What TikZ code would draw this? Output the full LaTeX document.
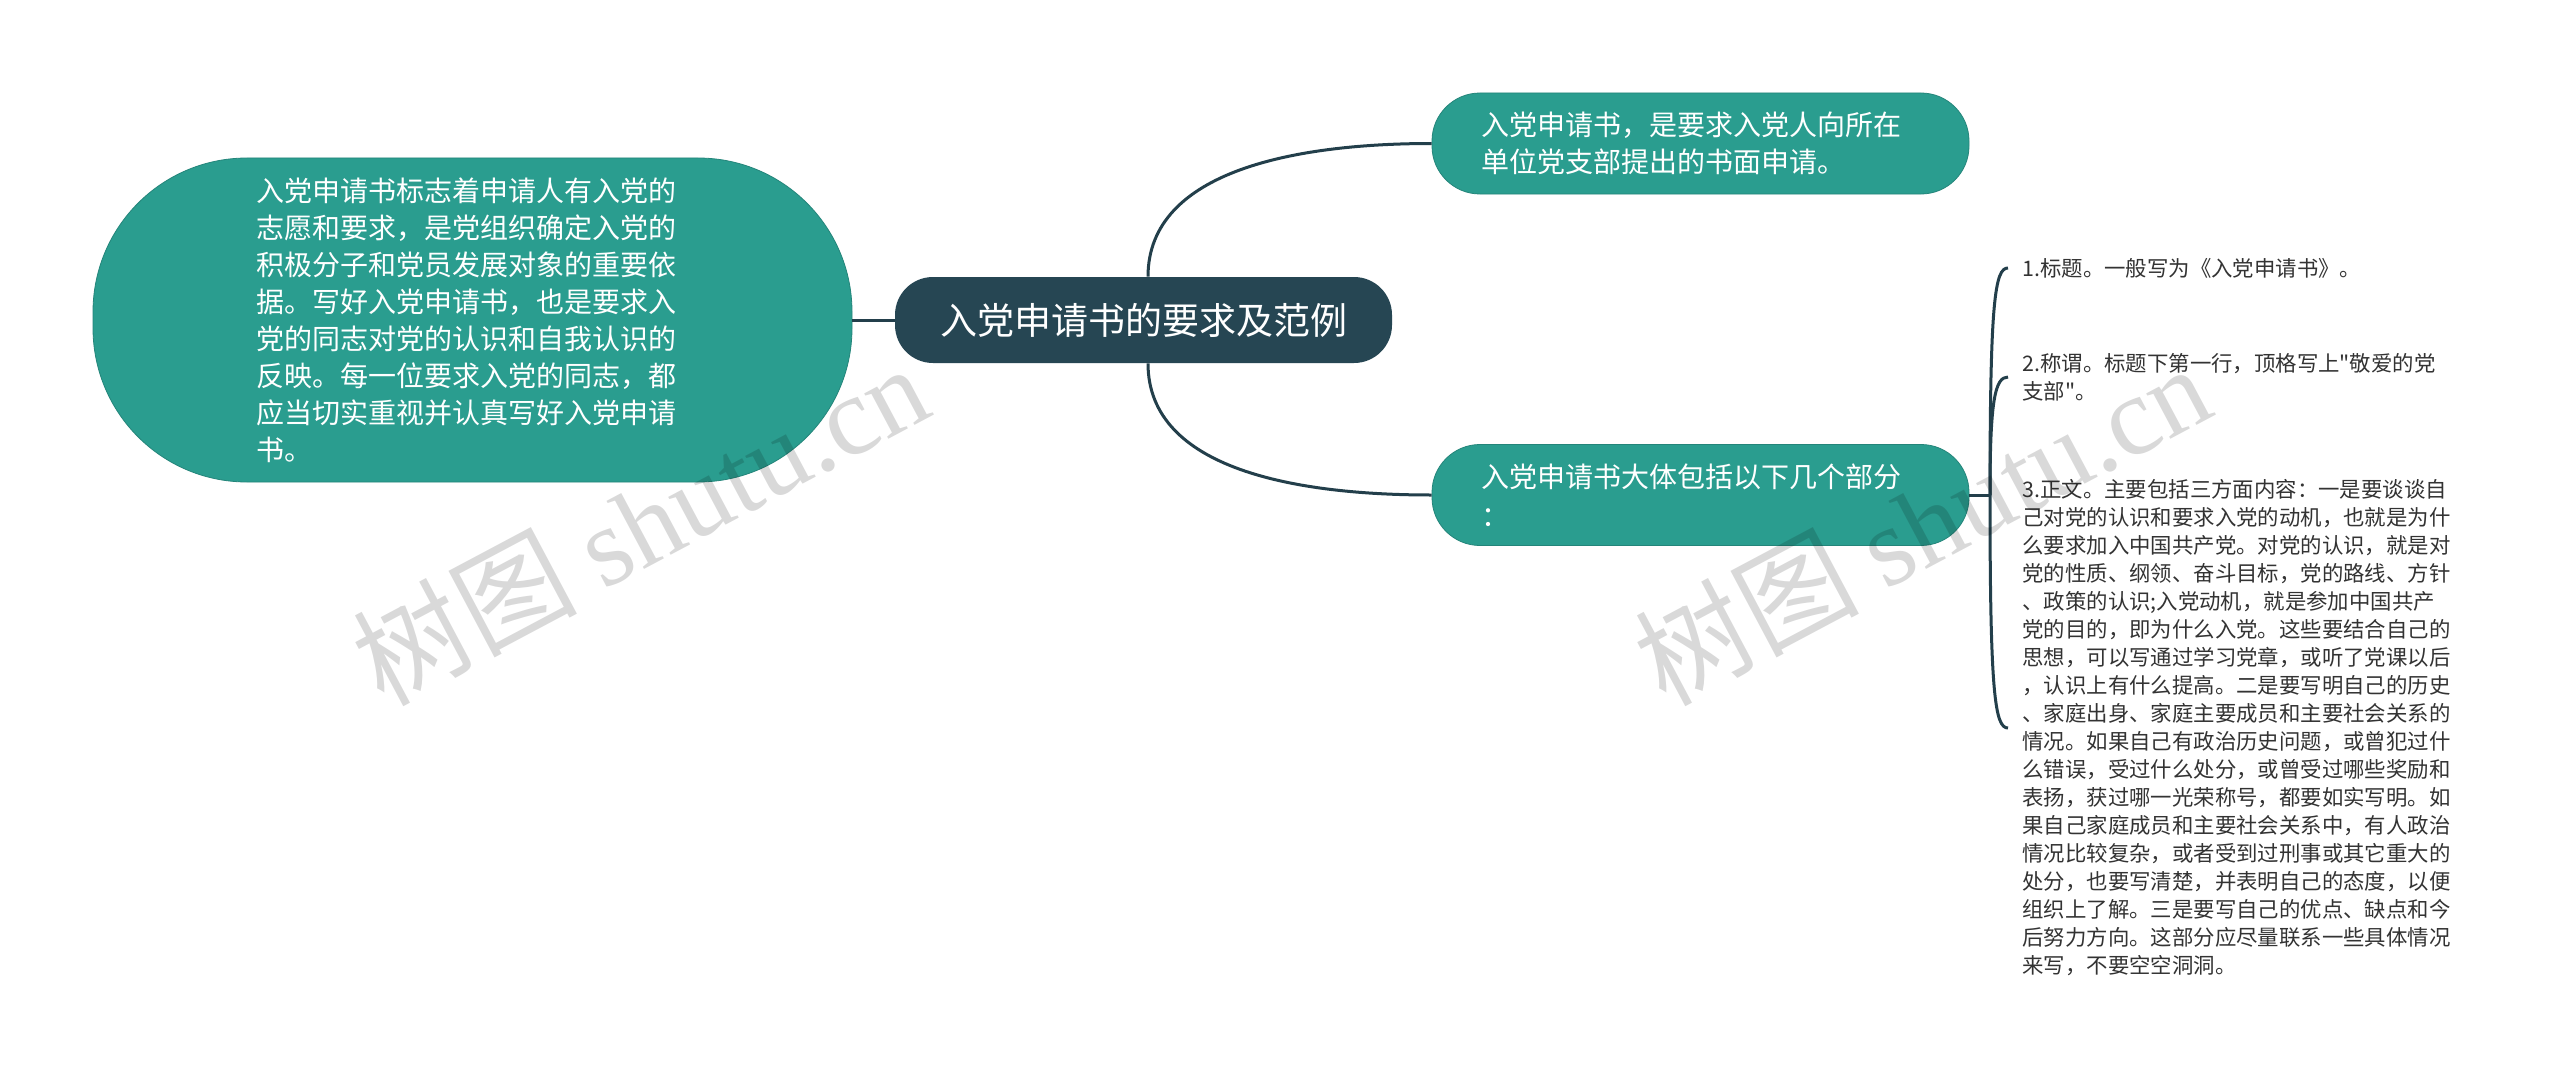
\documentclass[tikz,border=0pt]{standalone}
\usepackage{fontspec}
\setmainfont{Noto Sans CJK SC}
\newfontfamily\plaincjk{Noto Sans CJK SC}
\newfontfamily\wmlatin{Liberation Serif}
\definecolor{tealc}{HTML}{2A9D8F}
\definecolor{darkc}{HTML}{264653}
\definecolor{linec}{HTML}{233F4B}
\definecolor{leaftxt}{HTML}{333333}
\begin{document}
\begin{tikzpicture}[x=0.5pt,y=-0.5pt,
  conn/.style={draw=linec, line width=1.5pt},
  mainnode/.style={fill=darkc, text=white, rounded corners=19pt, minimum width=248.5pt, minimum height=43pt, inner sep=0pt, font=\fontsize{18.5}{22}\selectfont},
  topic/.style={fill=tealc, draw=tealc!85!black, line width=0.4pt, text=white, inner sep=0pt, align=left},
  leaf/.style={text=leaftxt, anchor=west, inner xsep=7pt, inner ysep=2pt, align=left, font=\plaincjk\fontsize{10.7}{14}\selectfont},
  wm/.style={text=black, opacity=0.15, rotate=28, font=\fontsize{56}{60}\selectfont}
]
\fill[white] (0,0) rectangle (2560,1081);
\useasboundingbox (0,0) rectangle (2560,1081);

\node[mainnode] (c) at (1143.5,320) {入党申请书的要求及范例};

\node[topic, minimum width=379.5pt, minimum height=162pt, rounded corners=77pt, text width=216.5pt, font=\fontsize{14}{18.5}\selectfont] (L) at (472.5,320) {入党申请书标志着申请人有入党的\\
志愿和要求，是党组织确定入党的\\
积极分子和党员发展对象的重要依\\
据。写好入党申请书，也是要求入\\
党的同志对党的认识和自我认识的\\
反映。每一位要求入党的同志，都\\
应当切实重视并认真写好入党申请\\
书。};

\node[topic, minimum width=268.5pt, minimum height=50.5pt, rounded corners=24pt, text width=219.5pt, font=\fontsize{14}{18.5}\selectfont] (n1) at (1700.5,143.5) {入党申请书，是要求入党人向所在\\单位党支部提出的书面申请。};

\node[topic, minimum width=268.5pt, minimum height=50.5pt, rounded corners=24pt, text width=219.5pt, font=\fontsize{14}{19.5}\selectfont] (n2) at (1700.5,495) {入党申请书大体包括以下几个部分\\：};

\node[leaf] (i1) at (2008,268) {1.标题。一般写为《入党申请书》。};
\node[leaf] (i2) at (2008,377) {2.称谓。标题下第一行，顶格写上"敬爱的党\\支部"。};
\node[leaf] (i3) at (2008,728) {3.正文。主要包括三方面内容：一是要谈谈自\\
己对党的认识和要求入党的动机，也就是为什\\
么要求加入中国共产党。对党的认识，就是对\\
党的性质、纲领、奋斗目标，党的路线、方针\\
、政策的认识;入党动机，就是参加中国共产\\
党的目的，即为什么入党。这些要结合自己的\\
思想，可以写通过学习党章，或听了党课以后\\
，认识上有什么提高。二是要写明自己的历史\\
、家庭出身、家庭主要成员和主要社会关系的\\
情况。如果自己有政治历史问题，或曾犯过什\\
么错误，受过什么处分，或曾受过哪些奖励和\\
表扬，获过哪一光荣称号，都要如实写明。如\\
果自己家庭成员和主要社会关系中，有人政治\\
情况比较复杂，或者受到过刑事或其它重大的\\
处分，也要写清楚，并表明自己的态度，以便\\
组织上了解。三是要写自己的优点、缺点和今\\
后努力方向。这部分应尽量联系一些具体情况\\
来写，不要空空洞洞。};

\draw[conn] (c.west) -- (L.east);
\draw[conn] ([xshift=2.25pt]c.north) .. controls +(0,-107) and +(-133,0) .. (n1.west);
\draw[conn] ([xshift=2.25pt]c.south) .. controls +(0,107) and +(-133,0) .. (n2.west);

\coordinate (f) at (1990,495);
\draw[conn] (n2.east) -- (f);
\draw[conn] (f) .. controls +(0,-195) and +(-13,0) .. (i1.west);
\draw[conn] (f) .. controls +(0,-95) and +(-13,0) .. (i2.west);
\draw[conn] (f) .. controls +(0,200) and +(-13,0) .. (i3.west);

\node[wm] (w1) at (640,523) {树图 {\wmlatin shutu.cn}};
\node[wm] (w2) at (1922,523) {树图 {\wmlatin shutu.cn}};
\end{tikzpicture}
\end{document}
